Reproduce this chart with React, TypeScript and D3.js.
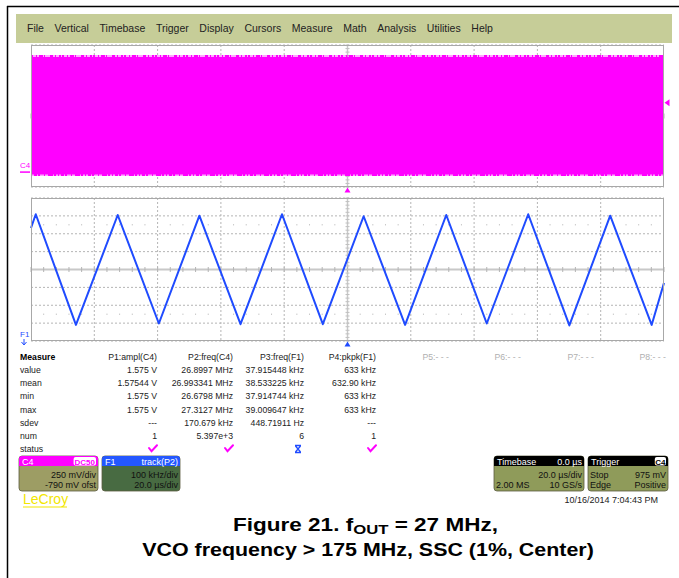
import * as d3 from "d3";
import { useLayoutEffect, useRef } from "react";

// ---- data ----
const menuItems = ["File", "Vertical", "Timebase", "Trigger", "Display", "Cursors", "Measure", "Math", "Analysis", "Utilities", "Help"];

// F1 = track(P2): frequency of C4 over time (vertices of the triangle modulation)
const trackTimes = [-100, -98.5, -85.8, -72.6, -59.6, -46.8, -33.8, -20.7, -7.8, 5.1, 18.2, 31.2, 44.0, 57.1, 70.1, 83.0, 96.1, 100]; // µs
const trackMHz = [27.232, 27.309, 26.69, 27.305, 26.698, 27.301, 26.694, 27.309, 26.694, 27.298, 26.69, 27.305, 26.698, 27.309, 26.687, 27.301, 26.69, 26.925];

// C4: 27 MHz clock, shown as a solid band (V)
const c4Times = [-100, 100];
const c4Envelope = [1.65, -0.055]; // noisy outer edge
const c4Solid = [1.62, -0.034]; // solid core
const c4TriggerLevel = 0.975;
const c4Ground = 0;

const measureRows = ["value", "mean", "min", "max", "sdev", "num", "status"];
const measureHeaders = ["P1:ampl(C4)", "P2:freq(C4)", "P3:freq(F1)", "P4:pkpk(F1)", "P5:- - -", "P6:- - -", "P7:- - -", "P8:- - -"];
const p1Values = ["1.575 V", "1.57544 V", "1.575 V", "1.575 V", "---", "1"];
const p2Values = ["26.8997 MHz", "26.993341 MHz", "26.6798 MHz", "27.3127 MHz", "170.679 kHz", "5.397e+3"];
const p3Values = ["37.915448 kHz", "38.533225 kHz", "37.914744 kHz", "39.009647 kHz", "448.71911 Hz", "6"];
const p4Values = ["633 kHz", "632.90 kHz", "633 kHz", "633 kHz", "---", "1"];
const statusFlags = ["ok", "ok", "warn", "ok"];

const FONT = "'Liberation Sans', Arial, sans-serif";
const MAGENTA = "#ff00ff";
const BLUE = "#1f4bff";

// layout of the table columns (right edges)
const COL_RIGHT = [157, 233, 304, 376, 449, 521, 594, 666];

function Grid({ x, y, lines, center }: { x: d3.ScaleLinear<number, number>; y: d3.ScaleLinear<number, number>; lines: number[]; center: number }) {
    const [x0, x1] = x.range();
    const [y0, y1] = y.range();
    const vlines = d3.range(-80, 81, 20).filter((t) => t !== 0);
    const minor = d3.range(-100, 100.1, 4);
    const div = Math.abs(y(lines[1]) - y(lines[0]));
    return (
        <g>
            {vlines.map((t) => (
                <line key={"v" + t} x1={x(t)} x2={x(t)} y1={y1} y2={y0} stroke="#b4b4b4" strokeDasharray="2 2" />
            ))}
            {lines.filter((v) => Math.abs(v - center) > 1e-6).map((v) => (
                <line key={"h" + v} x1={x0} x2={x1} y1={y(v)} y2={y(v)} stroke="#b4b4b4" strokeDasharray="2 2" />
            ))}
            {[-2.5, 2.5].map((k) =>
                minor.filter((t) => Math.abs(t % 20) > 1e-6).map((t) => (
                    <rect key={"d" + k + t} x={x(t) - 0.5} y={y(center) + k * div - 0.5} width={1} height={1} fill="#b0b0b0" />
                ))
            )}
            <line x1={x0} x2={x1} y1={y(center)} y2={y(center)} stroke="#c8c8c8" strokeWidth={2} />
            <line x1={x(0)} x2={x(0)} y1={y1} y2={y0} stroke="#c8c8c8" strokeWidth={1.5} />
            {minor.map((t) => (
                <line key={"t" + t} x1={x(t)} x2={x(t)} y1={y(center) - 2.5} y2={y(center) + 2.5} stroke="#b4b4b4" />
            ))}
            {d3.range(-20, 21).map((k) => (
                <line key={"vt" + k} x1={x(0) - 2} x2={x(0) + 2} y1={y(center) + (k * div) / 5} y2={y(center) + (k * div) / 5} stroke="#c0c0c0" />
            ))}
        </g>
    );
}

function InfoBox({ x, y, w, head, headRight, headColor, bodyColor, rows, tag }: {
    x: number; y: number; w: number; head: string; headRight?: string; headColor: string; bodyColor: string;
    rows: [string, string][]; tag?: { text: string; color: string };
}) {
    const h = 35;
    return (
        <g fontFamily={FONT} fontSize={9}>
            <rect x={x} y={y} width={w} height={h} rx={3} fill={bodyColor} stroke="#5a5a40" strokeWidth={0.8} />
            <path d={`M${x + 3},${y}h${w - 6}a3,3 0 0 1 3,3v7h${-w}v-7a3,3 0 0 1 3,-3z`} fill={headColor} />
            <text x={x + 3} y={y + 8.5} fill="#fff">{head}</text>
            {headRight && <text x={x + w - 2} y={y + 8.5} fill="#fff" textAnchor="end">{headRight}</text>}
            {tag && (
                <g>
                    <rect x={x + w - 2 - tag.text.length * 5.6} y={y + 1} width={tag.text.length * 5.6} height={8.5} rx={2} fill="#fff" />
                    <text x={x + w - 2 - tag.text.length * 2.8} y={y + 8.5} fill={tag.color} fontSize={8} textAnchor="middle" fontWeight="bold">{tag.text}</text>
                </g>
            )}
            {rows.map(([l, r], i) => (
                <g key={i}>
                    {l && <text x={x + 2} y={y + 21.5 + i * 10} fill="#111">{l}</text>}
                    <text x={x + w - 2} y={y + 21.5 + i * 10} fill="#111" textAnchor="end">{r}</text>
                </g>
            ))}
        </g>
    );
}

export default function App() {
    const menuRef = useRef<SVGGElement | null>(null);
    const cap1Ref = useRef<SVGTextElement | null>(null);
    const cap2Ref = useRef<SVGTextElement | null>(null);

    useLayoutEffect(() => {
        if (menuRef.current) {
            let cx = 27;
            d3.select(menuRef.current)
                .selectAll<SVGTextElement, unknown>("text")
                .each(function () {
                    this.setAttribute("x", String(cx));
                    cx += this.getComputedTextLength() + 10.6;
                });
        }
        // stretch caption lines to the width they have in the figure
        const fit = (el: SVGTextElement | null, cx: number, target: number) => {
            if (!el) return;
            const w = el.getBBox().width;
            if (w > 0) el.setAttribute("transform", `translate(${cx},0) scale(${target / w},1) translate(${-cx},0)`);
        };
        fit(cap1Ref.current, 365.5, 265);
        fit(cap2Ref.current, 368, 452);
    }, []);

    const x = d3.scaleLinear().domain([-100, 100]).range([31, 664]);
    const yC4 = d3.scaleLinear().domain([-0.21, 1.79]).range([187, 45]);
    const yF1 = d3.scaleLinear().domain([26.6, 27.4]).range([341, 198]);

    const c4Lines = d3.range(0, 9).map((k) => -0.21 + k * 0.25);
    const f1Lines = d3.range(0, 9).map((k) => 26.6 + k * 0.1);

    const line = d3.line<number>().x((_, i) => x(trackTimes[i])).y((d) => yF1(d));
    const band = (env: number[]) =>
        d3.area<number>().x((t) => x(t)).y0(yC4(env[1])).y1(yC4(env[0]))(c4Times) ?? "";

    const rowY = d3.scalePoint<string>().domain(measureRows).range([373, 452]);
    const valueCols = [p1Values, p2Values, p3Values, p4Values];

    const check = (cx: number, cy: number) => `M${cx - 6},${cy - 1}l2.5,3.2l5.5,-6`;

    return (
        <svg width={679} height={578} style={{ position: "absolute", left: 0, top: 0, background: "#fff" }}>
            {/* page frame */}
            <line x1={7} x2={679} y1={6.5} y2={6.5} stroke="#000" strokeWidth={1.5} />
            <line x1={7.5} x2={7.5} y1={6} y2={578} stroke="#000" strokeWidth={1.5} />

            {/* menu bar */}
            <rect x={16} y={14} width={656} height={29} fill="#c6cd98" />
            <g ref={menuRef} fontFamily={FONT} fontSize={10.5} fill="#222">
                {menuItems.map((m) => (
                    <text key={m} x={0} y={32}>{m}</text>
                ))}
            </g>

            {/* C4 pane */}
            <rect x={31} y={45} width={633} height={142} fill="#fff" />
            <Grid x={x} y={yC4} lines={c4Lines} center={0.79} />
            <path d={band(c4Envelope)} fill={MAGENTA} opacity={0.35} />
            <path d={band(c4Solid)} fill={MAGENTA} />
            <line x1={31} x2={664} y1={yC4(c4Envelope[0]) + 1} y2={yC4(c4Envelope[0]) + 1} stroke={MAGENTA} strokeWidth={2} strokeDasharray="2 3 1 2 4 1 1 5 3 2 1 3 2 1" />
            <line x1={31} x2={664} y1={yC4(c4Envelope[1]) - 1} y2={yC4(c4Envelope[1]) - 1} stroke={MAGENTA} strokeWidth={2} strokeDasharray="1 2 3 1 2 4 1 3 5 1 2 2" />
            <rect x={31.5} y={45.5} width={632} height={141} fill="none" stroke="#a8a8a8" />
            <text x={20} y={168} fontFamily={FONT} fontSize={8} fill={MAGENTA}>C4</text>
            <line x1={20} x2={30} y1={yC4(c4Ground)} y2={yC4(c4Ground)} stroke={MAGENTA} strokeWidth={1.5} />
            <path d={`M${664.5},${yC4(c4TriggerLevel)}l5,-3.5v7z`} fill={MAGENTA} />
            <path d={`M${x(0)},${187.5}l-3,5h6z`} fill={MAGENTA} />

            {/* F1 pane */}
            <rect x={31} y={198} width={633} height={143} fill="#fff" />
            <Grid x={x} y={yF1} lines={f1Lines} center={27.0} />
            <path d={line(trackMHz) ?? ""} fill="none" stroke={BLUE} strokeWidth={2} strokeLinejoin="round" />
            <rect x={31.5} y={198.5} width={632} height={142} fill="none" stroke="#a8a8a8" />
            <text x={20} y={337} fontFamily={FONT} fontSize={8} fill={BLUE}>F1</text>
            <path d="M24,339v5M21.5,342l2.5,3l2.5,-3" fill="none" stroke={BLUE} strokeWidth={1} />
            <path d={`M${x(0)},${341.5}l-3,5h6z`} fill={BLUE} />

            {/* measure table */}
            <g fontFamily={FONT} fontSize={8.7} fill="#222">
                <text x={20} y={360} fontWeight="bold" fill="#000">Measure</text>
                {measureRows.map((r) => (
                    <text key={r} x={20} y={rowY(r)}>{r}</text>
                ))}
                {measureHeaders.map((h, i) => (
                    <text key={h} x={COL_RIGHT[i]} y={360} textAnchor="end" fill={i < 4 ? "#222" : "#b0b0b0"}>{h}</text>
                ))}
                {valueCols.map((vals, ci) =>
                    vals.map((v, ri) => (
                        <text key={ci + "-" + ri} x={COL_RIGHT[ci]} y={rowY(measureRows[ri])} textAnchor="end">{v}</text>
                    ))
                )}
                {statusFlags.map((s, ci) => {
                    const cx = COL_RIGHT[ci] - 2;
                    const cy = (rowY("status") ?? 0) - 3;
                    return s === "ok" ? (
                        <path key={ci} d={check(cx, cy)} fill="none" stroke={MAGENTA} strokeWidth={2} strokeLinecap="round" />
                    ) : (
                        <path key={ci} d={`M${cx - 7},${cy - 3.5}h6M${cx - 7},${cy + 3.5}h6M${cx - 6.5},${cy - 3}l5,6M${cx - 1.5},${cy - 3}l-5,6`} fill="none" stroke={BLUE} strokeWidth={1.3} />
                    );
                })}
            </g>

            {/* channel / timebase boxes */}
            <InfoBox x={19} y={456} w={79} head="C4" headColor={MAGENTA} bodyColor="#9d9d64"
                tag={{ text: "DC50", color: MAGENTA }} rows={[["", "250 mV/div"], ["", "-790 mV ofst"]]} />
            <InfoBox x={102} y={456} w={78} head="F1" headRight="track(P2)" headColor="#2457ff" bodyColor="#486b42"
                rows={[["", "100 kHz/div"], ["", "20.0 µs/div"]]} />
            <InfoBox x={494} y={456} w={90} head="Timebase" headRight="0.0 µs" headColor="#000" bodyColor="#8f9b5a"
                rows={[["", "20.0 µs/div"], ["2.00 MS", "10 GS/s"]]} />
            <InfoBox x={588} y={456} w={80} head="Trigger" headColor="#000" bodyColor="#8f9b5a"
                tag={{ text: "C4", color: "#000" }} rows={[["Stop", "975 mV"], ["Edge", "Positive"]]} />

            <text x={23} y={504} fontFamily={FONT} fontSize={14} fill="#f2e600">LeCroy</text>
            <line x1={23} x2={67} y1={507} y2={507} stroke="#f2e600" strokeWidth={1.2} />
            <text x={658} y={503} fontFamily={FONT} fontSize={9} fill="#222" textAnchor="end">10/16/2014 7:04:43 PM</text>

            {/* caption */}
            <g fontFamily={FONT} fontWeight="bold" fontSize={17.5} fill="#000" textAnchor="middle">
                <text ref={cap1Ref} x={365.5} y={531}>
                    Figure 21. f<tspan fontSize={13} dy={3.5}>OUT</tspan><tspan dy={-3.5}> = 27 MHz,</tspan>
                </text>
                <text ref={cap2Ref} x={368} y={556}>VCO frequency &gt; 175 MHz, SSC (1%, Center)</text>
            </g>
        </svg>
    );
}
